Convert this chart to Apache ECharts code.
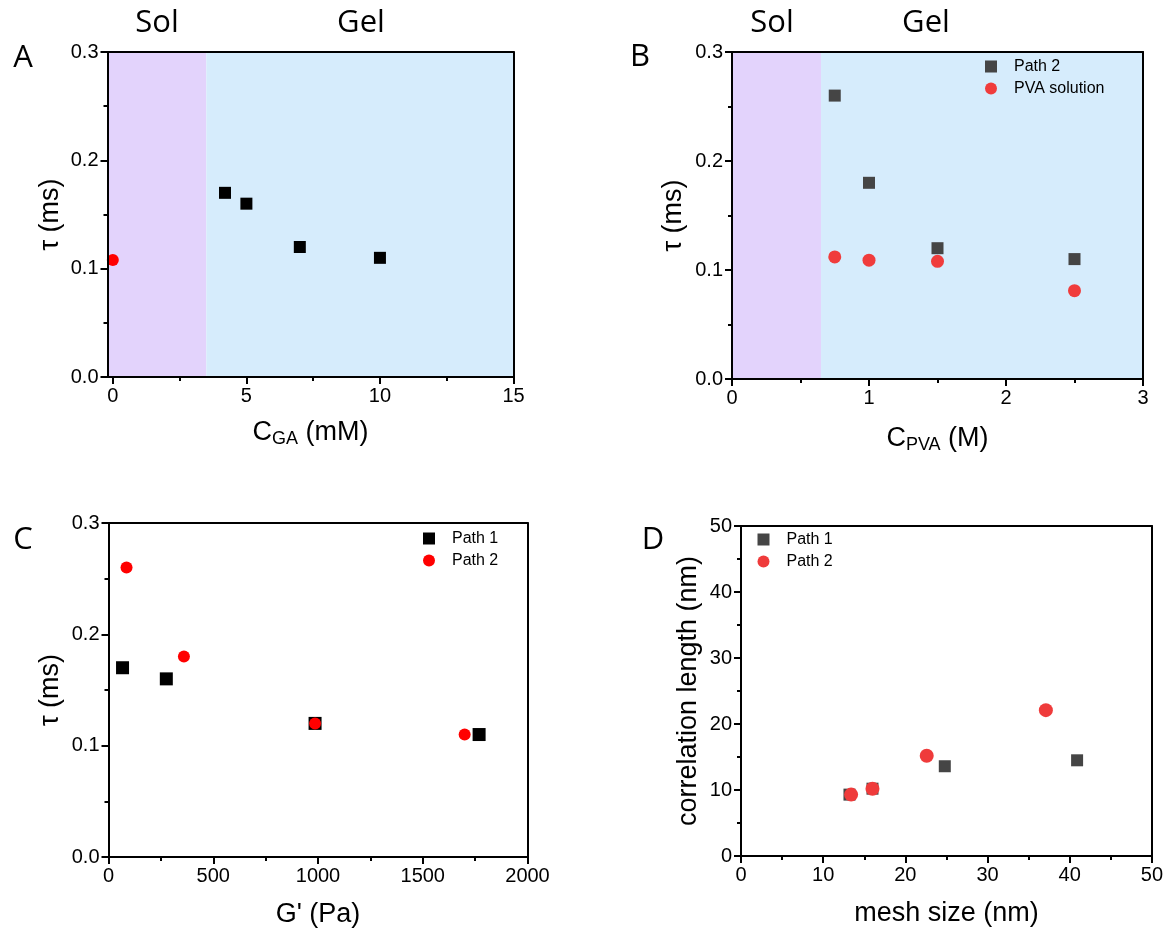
<!DOCTYPE html>
<html>
<head>
<meta charset="utf-8">
<script src="https://cdn.jsdelivr.net/npm/echarts/dist/echarts.min.js"></script>
<style>html,body{margin:0;padding:0;background:#fff}#c{width:1166px;height:934px}</style>
</head>
<body>
<div id="c"></div>
<script>
// ---------- Panel A : tau vs C_GA ----------
const aGelX = [4.2, 5, 7, 10];
const aGelY = [0.17, 0.16, 0.12, 0.11];
const aSolX = [0];
const aSolY = [0.108];
const aBands = [-0.2, 3.5, 15];          // sol start, sol/gel boundary, gel end
const aXTicks = [0, 5, 10, 15];
const aXMinor = [2.5, 7.5, 12.5];
// ---------- Panel B : tau vs C_PVA ----------
const bX = [0.75, 1, 1.5, 2.5];
const bPath2 = [0.26, 0.18, 0.12, 0.11];
const bPVA = [0.112, 0.109, 0.108, 0.081];
const bBands = [0, 0.65, 3];
// ---------- Panel C : tau vs G' ----------
const cPath1X = [67, 276, 986, 1769];
const cPath1Y = [0.17, 0.16, 0.12, 0.11];
const cPath2X = [86, 360, 986, 1700];
const cPath2Y = [0.26, 0.18, 0.12, 0.11];
// ---------- Panel D : correlation length vs mesh size ----------
const dPath1X = [13.2, 16.0, 24.8, 40.9];
const dPath1Y = [9.3, 10.2, 13.6, 14.5];
const dPath2X = [13.4, 16.0, 22.6, 37.1];
const dPath2Y = [9.3, 10.2, 15.2, 22.1];
// ---------- texts ----------
const legendText = { B_p2: 'Path 2', B_pva: 'PVA solution', C_p1: 'Path 1', C_p2: 'Path 2', D_p1: 'Path 1', D_p2: 'Path 2' };
const panelLetters = ['A', 'B', 'C', 'D'];
const phaseLabels = ['Sol', 'Gel'];

const FONT = "'Liberation Sans', Arial, sans-serif";
const TFONT = "'Open Sans', 'Noto Sans', sans-serif";
const SOL = '#e3d3fc', GEL = '#d6ecfc';
const pairs = (xs, ys) => xs.map((x, i) => [x, ys[i]]);

const grids = [
  { left: 107.5, top: 52, width: 406, height: 325 },
  { left: 732, top: 52, width: 411, height: 327 },
  { left: 108.5, top: 523, width: 419, height: 334 },
  { left: 741, top: 526, width: 412, height: 330 }
];

const nameStyle = {
  fontSize: 27, fontFamily: FONT, color: '#000', lineHeight: 30,
  rich: {
    m: { fontSize: 27, fontFamily: FONT, color: '#000', lineHeight: 30 },
    s: { fontSize: 18, fontFamily: FONT, color: '#000', lineHeight: 14, verticalAlign: 'bottom' }
  }
};
const lineS = { color: '#000', width: 2 };
const LBL = 20;
const xAxes = [], yAxes = [];

function mainAxis(list, g, pos, min, max, interval, name, gap, fmt, extra) {
  const ax = {
    type: 'value', gridIndex: g, position: pos, min: min, max: max,
    name: name, nameLocation: 'middle', nameGap: gap, nameTextStyle: nameStyle,
    axisLine: { show: true, onZero: false, lineStyle: lineS },
    axisTick: { show: true, length: 7, lineStyle: lineS },
    minorTick: { show: true, splitNumber: 2, length: 4, lineStyle: lineS },
    axisLabel: { color: '#000', fontSize: LBL, fontFamily: FONT, margin: 9, formatter: fmt },
    splitLine: { show: false }, minorSplitLine: { show: false }, z: 5
  };
  if (interval != null) ax.interval = interval;
  Object.assign(ax, extra || {});
  list.push(ax);
  return list.length - 1;
}
function frameAxis(list, g, pos, min, max) {
  list.push({
    type: 'value', gridIndex: g, position: pos, min: min, max: max,
    axisLine: { show: true, onZero: false, lineStyle: lineS },
    axisTick: { show: false }, axisLabel: { show: false },
    splitLine: { show: false }, z: 5
  });
}
const f1 = v => v.toFixed(1);
const f0 = v => String(Math.round(v));

// Panel A axes
const ax0 = mainAxis(xAxes, 0, 'bottom', aBands[0], aBands[2], null, '{m|C}{s|GA}{m| (mM)}', 41, f0, {
  axisTick: { show: true, length: 7, lineStyle: lineS, customValues: aXTicks },
  axisLabel: { color: '#000', fontSize: LBL, fontFamily: FONT, margin: 9, customValues: aXTicks, formatter: f0 },
  minorTick: { show: false }
});
xAxes.push({
  type: 'value', gridIndex: 0, position: 'bottom', min: aBands[0], max: aBands[2],
  axisLine: { show: false, onZero: false }, axisLabel: { show: false },
  axisTick: { show: true, length: 4, lineStyle: lineS, customValues: aXMinor },
  splitLine: { show: false }, z: 5
});
frameAxis(xAxes, 0, 'top', aBands[0], aBands[2]);
const ay0 = mainAxis(yAxes, 0, 'left', 0, 0.3, 0.1, 'τ (ms)', 42, f1);
frameAxis(yAxes, 0, 'right', 0, 0.3);

// Panel B axes
const ax1 = mainAxis(xAxes, 1, 'bottom', 0, 3, 1, '{m|C}{s|PVA}{m| (M)}', 45, f0);
frameAxis(xAxes, 1, 'top', 0, 3);
const ay1 = mainAxis(yAxes, 1, 'left', 0, 0.3, 0.1, 'τ (ms)', 43, f1);
frameAxis(yAxes, 1, 'right', 0, 0.3);

// Panel C axes
const ax2 = mainAxis(xAxes, 2, 'bottom', 0, 2000, 500, "G' (Pa)", 43, f0);
frameAxis(xAxes, 2, 'top', 0, 2000);
const ay2 = mainAxis(yAxes, 2, 'left', 0, 0.3, 0.1, 'τ (ms)', 43, f1);
frameAxis(yAxes, 2, 'right', 0, 0.3);

// Panel D axes
const ax3 = mainAxis(xAxes, 3, 'bottom', 0, 50, 10, 'mesh size (nm)', 43, f0);
frameAxis(xAxes, 3, 'top', 0, 50);
const ay3 = mainAxis(yAxes, 3, 'left', 0, 50, 10, 'correlation length (nm)', 37, f0);
frameAxis(yAxes, 3, 'right', 0, 50);

function bandSeries(xi, yi, b) {
  return {
    type: 'scatter', xAxisIndex: xi, yAxisIndex: yi, data: [], z: 1, silent: true,
    markArea: {
      silent: true,
      data: [
        [{ xAxis: b[0], itemStyle: { color: SOL } }, { xAxis: b[1] }],
        [{ xAxis: b[1], itemStyle: { color: GEL } }, { xAxis: b[2] }]
      ]
    }
  };
}
function sc(name, xi, yi, data, symbol, size, color) {
  return {
    name: name, type: 'scatter', xAxisIndex: xi, yAxisIndex: yi, data: data,
    symbol: symbol, symbolSize: size, itemStyle: { color: color, opacity: 1 }, z: 3,
    emphasis: { disabled: true }
  };
}

const series = [
  bandSeries(ax0, ay0, aBands),
  sc('A_gel', ax0, ay0, pairs(aGelX, aGelY), 'rect', 12, '#000'),
  sc('A_sol', ax0, ay0, pairs(aSolX, aSolY), 'circle', 12, '#ff0000'),
  bandSeries(ax1, ay1, bBands),
  sc('B_p2', ax1, ay1, pairs(bX, bPath2), 'rect', 12, '#454545'),
  sc('B_pva', ax1, ay1, pairs(bX, bPVA), 'circle', 13, '#f03c3c'),
  sc('C_p1', ax2, ay2, pairs(cPath1X, cPath1Y), 'rect', 13, '#000'),
  sc('C_p2', ax2, ay2, pairs(cPath2X, cPath2Y), 'circle', 12, '#ff0000'),
  sc('D_p1', ax3, ay3, pairs(dPath1X, dPath1Y), 'rect', 12, '#454545'),
  sc('D_p2', ax3, ay3, pairs(dPath2X, dPath2Y), 'circle', 14, '#ef3b3b')
];
series[series.length - 1].z = 4;
series[series.length - 3].z = 4;

function legend(left, top, items) {
  return {
    left: left, top: top, orient: 'vertical', padding: 0, itemGap: 5,
    itemWidth: 12, itemHeight: 12, selectedMode: false,
    data: items, formatter: n => legendText[n],
    textStyle: { fontSize: 16, fontFamily: FONT, color: '#000', padding: [0, 0, 0, 12], lineHeight: 17 }
  };
}

const tx = (x, y, text, size) => ({
  type: 'text', x: x, y: y, z: 10,
  style: { text: text, fontSize: size, fontFamily: TFONT, fill: '#000', align: 'center', verticalAlign: 'middle' }
});

const option = {
  animation: false,
  backgroundColor: '#fff',
  grid: grids.map(g => Object.assign({ show: false, containLabel: false }, g)),
  xAxis: xAxes,
  yAxis: yAxes,
  legend: [
    legend(985, 58, [{ name: 'B_p2', icon: 'rect' }, { name: 'B_pva', icon: 'circle' }]),
    legend(423, 530, [{ name: 'C_p1', icon: 'rect' }, { name: 'C_p2', icon: 'circle' }]),
    legend(757.5, 531, [{ name: 'D_p1', icon: 'rect' }, { name: 'D_p2', icon: 'circle' }])
  ],
  graphic: [
    tx(23, 58, panelLetters[0], 31),
    tx(640, 57, panelLetters[1], 31),
    tx(23, 540, panelLetters[2], 31),
    tx(653, 540, panelLetters[3], 31),
    tx(157, 23, phaseLabels[0], 31),
    tx(361, 23, phaseLabels[1], 31),
    tx(772, 23, phaseLabels[0], 31),
    tx(926, 23, phaseLabels[1], 31)
  ],
  series: series
};

const chart = echarts.init(document.getElementById('c'), null, { renderer: 'canvas' });
chart.setOption(option);
</script>
</body>
</html>
